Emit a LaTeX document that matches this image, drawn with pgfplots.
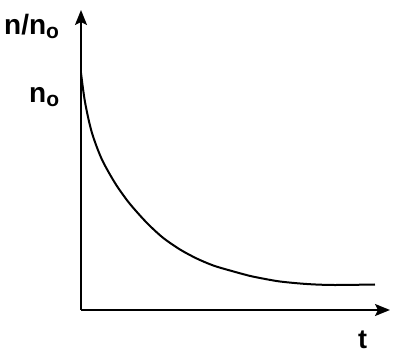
\documentclass[border=0pt]{standalone}
\usepackage{fontspec}
\setmainfont{Liberation Sans}
\usepackage{pgfplots}
\pgfplotsset{compat=1.18}
\usetikzlibrary{arrows.meta}
\begin{document}
\begin{tikzpicture}[x=1pt,y=1pt]
\path[use as bounding box] (-81,-46) rectangle (319,310);
\begin{axis}[x=1pt,y=1pt, anchor=origin, at={(0,0)},
  xmin=0,xmax=309,ymin=0,ymax=300,
  axis lines=left,
  axis line style={line width=2pt, -{Stealth[length=15pt,width=12pt,inset=3pt]}},
  ticks=none, clip=false]
\addplot[line width=2pt, smooth, tension=0.5, no marks] coordinates {
(0,237) (4,208) (10.7,178) (20.7,151) (34,127) (47,108.5) (59,94.5) (69,84)
(82.3,72) (99,60.5) (115.7,51.5) (132.3,44.5) (149,39.5) (167.3,34.5) (179,32)
(199,28.5) (225.7,26) (252.3,25) (294,25.5)};
\end{axis}
\node[anchor=base west, inner sep=0, font=\fontsize{28}{32}\selectfont\bfseries] at (-77,275) {n/n\raisebox{-4pt}{\fontsize{21}{21}\selectfont o}};
\node[anchor=base west, inner sep=0, font=\fontsize{28}{32}\selectfont\bfseries] at (-52,207) {n\raisebox{-4pt}{\fontsize{21}{21}\selectfont o}};
\node[anchor=base west, inner sep=0, font=\fontsize{27}{32}\selectfont\bfseries] at (277,-39) {t};
\end{tikzpicture}
\end{document}
